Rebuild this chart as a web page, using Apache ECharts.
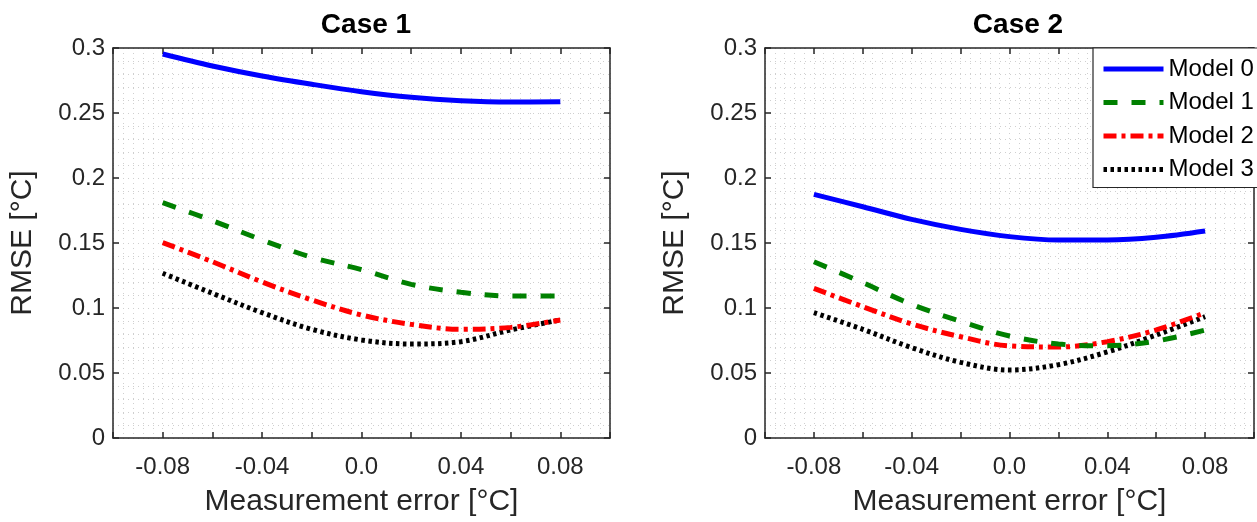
<!DOCTYPE html>
<html>
<head>
<meta charset="utf-8">
<script src="https://cdn.jsdelivr.net/npm/echarts@6/dist/echarts.min.js"></script>
<style>
html,body{margin:0;padding:0;background:#fff;}
#chart{width:1257px;height:522px;}
</style>
</head>
<body>
<div id="chart"></div>
<script>
// ---- data ----
const xValues = [-0.08, -0.06, -0.04, -0.02, 0.0, 0.02, 0.04, 0.06, 0.08];
const modelNames = ['Model 0', 'Model 1', 'Model 2', 'Model 3'];
const caseTitles = ['Case 1', 'Case 2'];

const case1Model0 = [0.2954, 0.2862, 0.2785, 0.2721, 0.2664, 0.2621, 0.2595, 0.2585, 0.2587];
const case1Model1 = [0.1810, 0.1672, 0.1523, 0.1390, 0.1295, 0.1182, 0.1121, 0.1092, 0.1092];
const case1Model2 = [0.1503, 0.1356, 0.1200, 0.1062, 0.0946, 0.0874, 0.0836, 0.0851, 0.0908];
const case1Model3 = [0.1267, 0.1113, 0.0964, 0.0836, 0.0754, 0.0723, 0.0741, 0.0831, 0.0908];

const case2Model0 = [0.1874, 0.1779, 0.1682, 0.1605, 0.1549, 0.1523, 0.1523, 0.1544, 0.1592];
const case2Model1 = [0.1356, 0.1195, 0.1028, 0.0897, 0.0785, 0.0723, 0.0710, 0.0746, 0.0830];
const case2Model2 = [0.1151, 0.1010, 0.0877, 0.0779, 0.0708, 0.0700, 0.0741, 0.0831, 0.0964];
const case2Model3 = [0.0964, 0.0836, 0.0695, 0.0582, 0.0523, 0.0564, 0.0662, 0.0792, 0.0933];

const xTickLabels = {'-8': '-0.08', '-4': '-0.04', '0': '0.0', '4': '0.04', '8': '0.08'};
const yTickLabels = ['0', '0.05', '0.1', '0.15', '0.2', '0.25', '0.3'];

// ---- styles ----
const FONT = 'Liberation Sans';
const axisColor = '#262626';
const gridColor = '#cfcfcf';
const lineStyles = [
  {color: '#0000ff', width: 5, type: 'solid'},
  {color: '#008000', width: 5, type: [14, 14]},
  {color: '#ff0000', width: 5, type: [13, 5, 4, 5]},
  {color: '#000000', width: 5, type: [3.5, 3.5]}
];

function pairs(vals) { return xValues.map((x, i) => [x, vals[i]]); }

function xAxisMain(gi) {
  return {
    type: 'value', gridIndex: gi, position: 'bottom',
    min: -0.1, max: 0.1, interval: 0.02,
    name: 'Measurement error [°C]', nameLocation: 'middle', nameGap: 49,
    nameTextStyle: {fontFamily: FONT, fontSize: 30, color: '#262626'},
    axisLine: {show: true, onZero: false, lineStyle: {color: axisColor, width: 1.5}},
    axisTick: {show: true, inside: true, length: 6, lineStyle: {color: axisColor, width: 1.5}},
    axisLabel: {
      fontFamily: FONT, fontSize: 24, color: '#262626', margin: 17,
      showMinLabel: true, showMaxLabel: true,
      formatter: v => { const k = String(Math.round(v * 100)); return xTickLabels[k] || ''; }
    },
    splitLine: {show: true, lineStyle: {color: gridColor, width: 1, type: [1, 4]}},
    minorTick: {show: false, splitNumber: 5},
    minorSplitLine: {show: true, lineStyle: {color: gridColor, width: 1, type: [1, 4]}}
  };
}
function xAxisTop(gi) {
  return {
    type: 'value', gridIndex: gi, position: 'top',
    min: -0.1, max: 0.1, interval: 0.02,
    axisLine: {show: true, onZero: false, lineStyle: {color: axisColor, width: 1.5}},
    axisTick: {show: true, inside: true, length: 6, lineStyle: {color: axisColor, width: 1.5}},
    axisLabel: {show: false}, splitLine: {show: false}
  };
}
function yAxisMain(gi) {
  return {
    type: 'value', gridIndex: gi, position: 'left',
    min: 0, max: 0.3, interval: 0.05,
    name: 'RMSE [°C]', nameLocation: 'middle', nameGap: 75,
    nameTextStyle: {fontFamily: FONT, fontSize: 30, color: '#262626'},
    axisLine: {show: true, onZero: false, lineStyle: {color: axisColor, width: 1.5}},
    axisTick: {show: true, inside: true, length: 6, lineStyle: {color: axisColor, width: 1.5}},
    axisLabel: {
      fontFamily: FONT, fontSize: 24, color: '#262626', margin: 8,
      formatter: v => yTickLabels[Math.round(v / 0.05)]
    },
    splitLine: {show: true, lineStyle: {color: gridColor, width: 1, type: [1, 4]}},
    minorTick: {show: false, splitNumber: 5},
    minorSplitLine: {show: true, lineStyle: {color: gridColor, width: 1, type: [1, 4]}}
  };
}
function yAxisRight(gi) {
  return {
    type: 'value', gridIndex: gi, position: 'right',
    min: 0, max: 0.3, interval: 0.05,
    axisLine: {show: true, onZero: false, lineStyle: {color: axisColor, width: 1.5}},
    axisTick: {show: true, inside: true, length: 6, lineStyle: {color: axisColor, width: 1.5}},
    axisLabel: {show: false}, splitLine: {show: false}
  };
}

const caseData = [
  [case1Model0, case1Model1, case1Model2, case1Model3],
  [case2Model0, case2Model1, case2Model2, case2Model3]
];

const series = [];
caseData.forEach((models, ci) => {
  models.forEach((vals, mi) => {
    series.push({
      name: modelNames[mi], type: 'line',
      xAxisIndex: ci * 2, yAxisIndex: ci * 2,
      data: pairs(vals), smooth: 0.35, symbol: 'none',
      lineStyle: lineStyles[mi], itemStyle: {color: lineStyles[mi].color},
      emphasis: {disabled: true}, z: 10 - mi
    });
  });
});

const chart = echarts.init(document.getElementById('chart'), null, {renderer: 'canvas'});
chart.setOption({
  animation: false,
  backgroundColor: '#ffffff',
  title: [
    {text: caseTitles[0], left: 361, top: 6, textAlign: 'center',
     textStyle: {fontFamily: FONT, fontSize: 28, fontWeight: 'bold', color: '#000'}},
    {text: caseTitles[1], left: 1013, top: 6, textAlign: 'center',
     textStyle: {fontFamily: FONT, fontSize: 28, fontWeight: 'bold', color: '#000'}}
  ],
  grid: [
    {left: 113, right: 647, top: 48, bottom: 84},
    {left: 765, right: -5, top: 48, bottom: 84}
  ],
  xAxis: [xAxisMain(0), xAxisTop(0), xAxisMain(1), xAxisTop(1)],
  yAxis: [yAxisMain(0), yAxisRight(0), yAxisMain(1), yAxisRight(1)],
  legend: {
    data: modelNames.map((n, i) => ({
      name: n,
      itemStyle: {opacity: 0},
      lineStyle: {color: lineStyles[i].color, width: 5, type: lineStyles[i].type}
    })),
    orient: 'vertical', left: 1093, top: 48,
    itemWidth: 60, itemHeight: 12, itemGap: 9.5,
    padding: [9, 20, 6, 8],
    backgroundColor: '#ffffff', borderColor: '#262626', borderWidth: 1.2,
    textStyle: {fontFamily: FONT, fontSize: 24, color: '#000', lineHeight: 22},
    selectedMode: false
  },
  series: series
});
</script>
</body>
</html>
